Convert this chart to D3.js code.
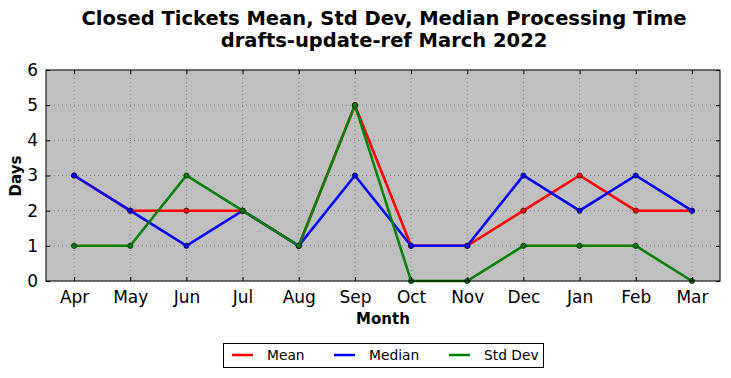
<!DOCTYPE html>
<html><head><meta charset="utf-8">
<script src="https://cdn.jsdelivr.net/npm/d3@7"></script>
<style>body{margin:0;background:#fff;font-family:"DejaVu Sans",sans-serif;}</style>
</head><body><svg id="c" width="731" height="378"></svg>
<script>
const months = ["Apr","May","Jun","Jul","Aug","Sep","Oct","Nov","Dec","Jan","Feb","Mar"];
const meanVals = [3,2,2,2,1,5,1,1,2,3,2,2];
const medianVals = [3,2,1,2,1,3,1,1,3,2,3,2];
const stdVals = [1,1,3,2,1,5,0,0,1,1,1,0];
const yTicks = [0,1,2,3,4,5,6];
const seriesNames = ["Mean","Median","Std Dev"];
const seriesColors = ["#ff0000","#0000ff","#008000"];
const series = [meanVals, medianVals, stdVals];

const svg = d3.select("#c");
const L=46, R=720, T=70, B=281;
const x = d3.scaleLinear().domain([-0.5, 11.5]).range([L, R]);
const y = d3.scaleLinear().domain([0, 6]).range([B, T]);

svg.append("rect").attr("x",L).attr("y",T).attr("width",R-L).attr("height",B-T).attr("fill","#bfbfbf");

// grid
const g = svg.append("g");
months.forEach((m,i)=>{
  g.append("line").attr("x1",x(i)).attr("x2",x(i)).attr("y1",T).attr("y2",B)
   .attr("stroke","#808080").attr("stroke-width",1).attr("stroke-dasharray","1,3");
});
yTicks.forEach(v=>{
  g.append("line").attr("x1",L).attr("x2",R).attr("y1",y(v)).attr("y2",y(v))
   .attr("stroke","#808080").attr("stroke-width",1).attr("stroke-dasharray","1,3");
});

// lines
const line = d3.line().x((d,i)=>x(i)).y(d=>y(d));
series.forEach((s,k)=>{
  svg.append("path").datum(s).attr("d",line).attr("fill","none")
    .attr("stroke",seriesColors[k]).attr("stroke-width",2.5).attr("stroke-linejoin","miter");
  svg.selectAll(null).data(s).enter().append("circle")
    .attr("cx",(d,i)=>x(i)).attr("cy",d=>y(d)).attr("r",2.6)
    .attr("fill",seriesColors[k]).attr("stroke","#000").attr("stroke-width",0.6);
});

// frame
svg.append("rect").attr("x",L).attr("y",T).attr("width",R-L).attr("height",B-T)
  .attr("fill","none").attr("stroke","#000").attr("stroke-width",1);

// axes with inward ticks
const xAxisB = d3.axisBottom(x).tickValues(d3.range(12)).tickFormat(i=>months[i]).tickSizeInner(-4).tickSizeOuter(0).tickPadding(10);
const xAxisT = d3.axisTop(x).tickValues(d3.range(12)).tickFormat("").tickSizeInner(-4).tickSizeOuter(0);
const yAxisL = d3.axisLeft(y).tickValues(yTicks).tickFormat(d3.format("d")).tickSizeInner(-4).tickSizeOuter(0).tickPadding(8);
const yAxisR = d3.axisRight(y).tickValues(yTicks).tickFormat("").tickSizeInner(-4).tickSizeOuter(0);
function style(sel){ sel.select(".domain").remove(); sel.selectAll("text").attr("font-family","DejaVu Sans, sans-serif").attr("font-size",17).attr("fill","#000"); sel.selectAll("line").attr("stroke","#000"); }
svg.append("g").attr("transform",`translate(0,${B})`).call(xAxisB).call(style);
svg.append("g").attr("transform",`translate(0,${T})`).call(xAxisT).call(style);
svg.append("g").attr("transform",`translate(${L},0)`).call(yAxisL).call(style);
svg.append("g").attr("transform",`translate(${R},0)`).call(yAxisR).call(style);

// titles
svg.append("text").attr("x",384).attr("y",25).attr("text-anchor","middle").attr("font-weight","bold").attr("font-size",19.5)
  .text("Closed Tickets Mean, Std Dev, Median Processing Time");
svg.append("text").attr("x",384).attr("y",47).attr("text-anchor","middle").attr("font-weight","bold").attr("font-size",19.5)
  .text("drafts-update-ref March 2022");
svg.append("text").attr("x",383).attr("y",324).attr("text-anchor","middle").attr("font-weight","bold").attr("font-size",15).text("Month");
svg.append("text").attr("transform","translate(21,176) rotate(-90)").attr("text-anchor","middle").attr("font-weight","bold").attr("font-size",15).text("Days");

// legend
const lg = svg.append("g");
lg.append("rect").attr("x",223.5).attr("y",343.5).attr("width",320).attr("height",24).attr("fill","#fff").attr("stroke","#000").attr("stroke-width",1);
const lx = [232, 334, 449];
seriesNames.forEach((n,k)=>{
  lg.append("line").attr("x1",lx[k]).attr("x2",lx[k]+21).attr("y1",355).attr("y2",355).attr("stroke",seriesColors[k]).attr("stroke-width",2.5);
  lg.append("text").attr("x",lx[k]+35).attr("y",360).attr("font-size",13.8).text(n);
});
</script></body></html>
